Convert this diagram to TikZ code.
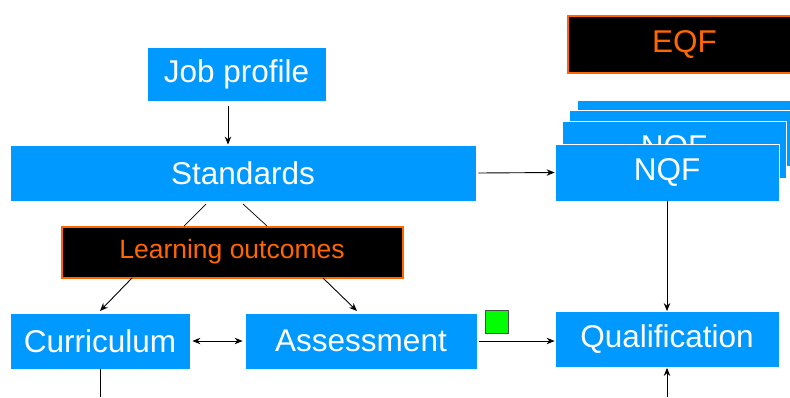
\documentclass[tikz,border=0pt]{standalone}
\usepackage{fontspec}
\setmainfont{Liberation Sans}
\usetikzlibrary{arrows.meta}
\definecolor{boxblue}{RGB}{0,153,255}
\definecolor{lorange}{RGB}{255,102,0}
\definecolor{sqgreen}{RGB}{0,255,0}
\tikzset{
  bluebox/.style={fill=boxblue, draw=white, line width=0.8pt, text=white, inner sep=0pt,
     font=\fontsize{31.5}{36}\selectfont},
  blackbox/.style={fill=black, draw=lorange, line width=2pt, text=lorange, inner sep=0pt},
  arr/.style={-{Stealth[length=8pt,width=6.5pt]}, line width=0.9pt},
  darr/.style={{Stealth[length=8pt,width=6.5pt]}-{Stealth[length=8pt,width=6.5pt]}, line width=0.9pt},
  plain/.style={line width=0.7pt}
}
\begin{document}
\begin{tikzpicture}[x=1pt,y=-1pt]
\useasboundingbox (0,0) rectangle (790,397);
\clip (0,0) rectangle (790,397);
% EQF
\node[blackbox, minimum width=233pt, minimum height=57pt, font=\fontsize{31.5}{36}\selectfont] (eqf) at (684.5,44) {EQF};
% NQF stack
\node[bluebox, minimum width=224pt, minimum height=57pt] (nqf4) at (689,128.5) {};
\node[bluebox, minimum width=224pt, minimum height=56pt] (nqf3) at (681,138) {};
\node[bluebox, minimum width=224pt, minimum height=57pt] (nqf2) at (674,149.5) {NQF};
\node[bluebox, minimum width=224pt, minimum height=57pt] (nqf) at (667,172.5) {NQF};
% main boxes
\node[bluebox, minimum width=179pt, minimum height=54pt] (job) at (236.5,74) {Job profile};
\node[bluebox, minimum width=466pt, minimum height=56pt] (std) at (243,173) {Standards};
\node[blackbox, minimum width=341pt, minimum height=51pt, font=\fontsize{26.5}{30}\selectfont] (lo) at (232,252) {Learning outcomes};
\node[bluebox, minimum width=180pt, minimum height=56pt] (cur) at (100,341) {Curriculum};
\node[bluebox, minimum width=232pt, minimum height=56pt] (ass) at (361,341) {Assessment};
\node[bluebox, minimum width=224pt, minimum height=56pt] (qual) at (667,339.5) {Qualification};
% green square
\node[fill=sqgreen, draw=black!70, line width=0.8pt, minimum width=23pt, minimum height=23pt, inner sep=0pt] (sq) at (497,321.5) {};
% free ends
\coordinate (jobend) at (228,106);
\coordinate (curbot) at (100,397);
\coordinate (qualbot) at (667,397);
% connectors
\draw[arr] (jobend) -- (std.north -| jobend);
\draw[arr] ([xshift=2pt]std.east) -- (nqf.west);
\draw[plain] (206,204) -- (184,226);
\draw[plain] (243,204) -- (267,226);
\draw[arr] (132,278) -- (100,311);
\draw[arr] (323,278) -- (357,311);
\draw[darr] ([xshift=2pt]cur.east) -- ([xshift=-2pt]ass.west);
\draw[arr] ([xshift=2pt]ass.east |- 0,341) -- (qual.west |- 0,341);
\draw[arr] (nqf.south) -- (qual.north);
\draw[line width=1pt] (cur.south) -- (curbot);
\draw[arr] (qualbot) -- (qual.south);
\end{tikzpicture}
\end{document}
